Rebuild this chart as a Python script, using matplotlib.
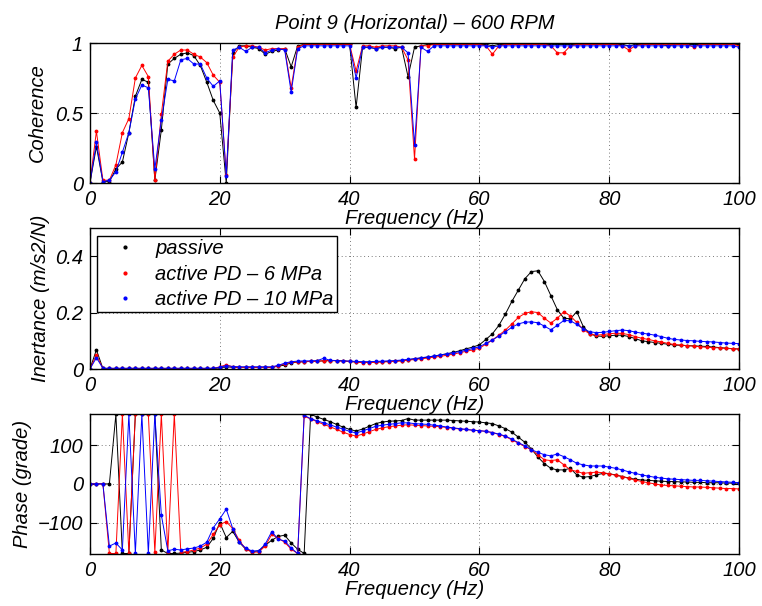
import matplotlib
matplotlib.use('Agg')
import matplotlib.pyplot as plt
from matplotlib.lines import Line2D
import numpy as np

# frequency axis (Hz), 1 Hz steps
freq = np.arange(0, 101, 1)

# --- coherence
coh_passive = [0.00, 0.26, 0.01, 0.01, 0.10, 0.15, 0.36, 0.62, 0.74, 0.72,
               0.02, 0.38, 0.85, 0.89, 0.92, 0.93, 0.91, 0.84, 0.72, 0.59,
               0.50, 0.00, 0.93, 0.98, 0.98, 0.97, 0.96, 0.92, 0.94, 0.95,
               0.96, 0.83, 0.98, 0.99, 0.99, 0.99, 1.00, 0.99, 0.99, 0.99,
               0.99, 0.54, 0.97, 0.97, 0.96, 0.97, 0.97, 0.96, 0.97, 0.76,
               0.97, 0.98, 0.99, 0.99, 0.99, 0.99, 0.99, 0.99, 0.99, 0.99,
               0.99, 0.99, 0.98, 0.99, 0.99, 0.99, 0.99, 0.99, 0.99, 0.99,
               0.99, 0.99, 0.99, 0.99, 0.99, 0.99, 0.99, 0.99, 0.99, 0.99,
               0.99, 0.99, 0.99, 0.98, 0.99, 0.99, 0.99, 0.99, 0.99, 0.98,
               0.99, 0.99, 0.99, 0.99, 0.99, 0.99, 0.99, 0.99, 0.99, 0.99,
               0.99]
coh_pd6 = [0.00, 0.37, 0.02, 0.02, 0.13, 0.36, 0.46, 0.75, 0.84, 0.76,
           0.02, 0.49, 0.87, 0.92, 0.95, 0.95, 0.92, 0.90, 0.86, 0.77,
           0.72, 0.06, 0.90, 0.97, 0.98, 0.98, 0.97, 0.95, 0.96, 0.96,
           0.96, 0.68, 0.97, 0.99, 0.99, 0.99, 0.99, 0.99, 0.99, 0.99,
           0.99, 0.80, 0.98, 0.98, 0.97, 0.98, 0.98, 0.98, 0.97, 0.88,
           0.17, 0.98, 0.98, 0.99, 0.99, 0.99, 0.99, 0.99, 0.99, 0.99,
           0.99, 0.98, 0.92, 0.98, 0.99, 0.99, 0.99, 0.99, 0.99, 0.99,
           0.99, 0.98, 0.93, 0.93, 0.98, 0.99, 0.99, 0.99, 0.99, 0.99,
           0.99, 0.99, 0.98, 0.95, 0.98, 0.99, 0.99, 0.99, 0.99, 0.99,
           0.99, 0.99, 0.99, 0.97, 0.99, 0.99, 0.99, 0.99, 0.99, 0.99,
           0.98]
coh_pd10 = [0.00, 0.29, 0.01, 0.02, 0.08, 0.22, 0.36, 0.60, 0.70, 0.68,
            0.10, 0.45, 0.74, 0.73, 0.88, 0.89, 0.85, 0.85, 0.75, 0.69,
            0.73, 0.05, 0.95, 0.97, 0.94, 0.97, 0.97, 0.93, 0.95, 0.96,
            0.95, 0.65, 0.96, 0.98, 0.98, 0.98, 0.98, 0.98, 0.98, 0.98,
            0.98, 0.75, 0.97, 0.97, 0.96, 0.97, 0.97, 0.97, 0.97, 0.93,
            0.27, 0.97, 0.94, 0.98, 0.98, 0.98, 0.98, 0.98, 0.98, 0.98,
            0.98, 0.98, 0.97, 0.98, 0.98, 0.98, 0.98, 0.98, 0.98, 0.98,
            0.98, 0.98, 0.98, 0.98, 0.98, 0.98, 0.98, 0.98, 0.98, 0.98,
            0.98, 0.98, 0.98, 0.98, 0.98, 0.98, 0.98, 0.98, 0.98, 0.98,
            0.98, 0.98, 0.98, 0.98, 0.98, 0.98, 0.98, 0.98, 0.98, 0.98,
            0.97]

# --- inertance (m/s2/N)
ine_passive = [0.000, 0.068, 0.002, 0.002, 0.002, 0.002, 0.002, 0.002, 0.002, 0.002,
               0.002, 0.002, 0.002, 0.002, 0.002, 0.002, 0.002, 0.002, 0.002, 0.002,
               0.004, 0.008, 0.006, 0.006, 0.006, 0.006, 0.006, 0.006, 0.006, 0.010,
               0.014, 0.022, 0.025, 0.026, 0.027, 0.028, 0.029, 0.030, 0.030, 0.029,
               0.027, 0.025, 0.024, 0.024, 0.025, 0.026, 0.027, 0.028, 0.030, 0.033,
               0.036, 0.039, 0.042, 0.046, 0.050, 0.054, 0.059, 0.065, 0.072, 0.078,
               0.086, 0.105, 0.125, 0.155, 0.195, 0.240, 0.280, 0.320, 0.345, 0.348,
               0.310, 0.260, 0.210, 0.180, 0.178, 0.203, 0.150, 0.125, 0.117, 0.116,
               0.118, 0.120, 0.120, 0.115, 0.108, 0.100, 0.097, 0.094, 0.091, 0.088,
               0.085, 0.084, 0.083, 0.082, 0.081, 0.080, 0.078, 0.076, 0.074, 0.072,
               0.071]
ine_pd6 = [0.000, 0.050, 0.002, 0.002, 0.002, 0.002, 0.002, 0.002, 0.002, 0.002,
           0.002, 0.002, 0.002, 0.002, 0.002, 0.002, 0.002, 0.002, 0.002, 0.002,
           0.008, 0.015, 0.008, 0.006, 0.006, 0.006, 0.006, 0.006, 0.006, 0.012,
           0.018, 0.024, 0.025, 0.026, 0.027, 0.027, 0.030, 0.030, 0.029, 0.028,
           0.027, 0.025, 0.023, 0.023, 0.024, 0.025, 0.026, 0.027, 0.029, 0.031,
           0.034, 0.036, 0.039, 0.042, 0.045, 0.049, 0.053, 0.058, 0.063, 0.068,
           0.074, 0.088, 0.103, 0.120, 0.138, 0.160, 0.183, 0.197, 0.203, 0.200,
           0.180, 0.163, 0.180, 0.203, 0.188, 0.165, 0.140, 0.124, 0.120, 0.122,
           0.125, 0.127, 0.126, 0.122, 0.115, 0.109, 0.105, 0.100, 0.096, 0.091,
           0.087, 0.085, 0.083, 0.081, 0.079, 0.077, 0.076, 0.075, 0.073, 0.072,
           0.071]
ine_pd10 = [0.000, 0.040, 0.003, 0.003, 0.003, 0.003, 0.003, 0.003, 0.003, 0.003,
            0.003, 0.003, 0.003, 0.003, 0.003, 0.003, 0.003, 0.003, 0.003, 0.003,
            0.006, 0.012, 0.009, 0.008, 0.008, 0.008, 0.008, 0.008, 0.008, 0.013,
            0.021, 0.026, 0.028, 0.029, 0.029, 0.030, 0.038, 0.031, 0.030, 0.029,
            0.028, 0.027, 0.026, 0.026, 0.027, 0.028, 0.029, 0.030, 0.032, 0.034,
            0.037, 0.040, 0.043, 0.046, 0.050, 0.054, 0.058, 0.062, 0.067, 0.073,
            0.079, 0.091, 0.103, 0.117, 0.132, 0.148, 0.160, 0.166, 0.167, 0.164,
            0.152, 0.139, 0.155, 0.172, 0.171, 0.158, 0.142, 0.132, 0.129, 0.130,
            0.133, 0.136, 0.138, 0.136, 0.131, 0.127, 0.124, 0.120, 0.115, 0.109,
            0.105, 0.103, 0.101, 0.100, 0.098, 0.097, 0.096, 0.094, 0.092, 0.091,
            0.090]

# --- phase (grade)
ph_passive = [0, 0, 0, 0, 179, -179, -179, 179, 179, 179,
              179, -170, -179, -179, -178, -176, -174, -170, -163, -140,
              -100, -138, -122, -150, -168, -174, -172, -158, -145, -135,
              -132, -152, -168, -179, 179, 172, 166, 160, 153, 146,
              140, 136, 141, 148, 155, 159, 161, 162, 163, 168,
              164, 164, 164, 164, 164, 164, 163, 162, 161, 160,
              159, 157, 155, 149, 142, 133, 120, 107, 90, 69,
              52, 40, 36, 36, 40, 23, 17, 19, 23, 27,
              26, 23, 19, 15, 12, 10, 9, 8, 7, 6,
              6, 5, 5, 4, 4, 3, 3, 3, 2, 2,
              2]
ph_pd6 = [0, 0, 0, -179, -179, 179, -179, 179, 179, 179,
          -176, 179, -175, 179, -176, -174, -170, -165, -155, -130,
          -105, -97, -115, -145, -168, -176, -175, -160, -130, -140,
          -150, -168, -179, 174, 167, 160, 153, 147, 140, 133,
          127, 123, 128, 134, 140, 144, 147, 149, 151, 152,
          151, 150, 149, 148, 147, 145, 143, 141, 140, 138,
          137, 135, 132, 127, 122, 113, 105, 96, 88, 75,
          62, 60, 62, 49, 36, 32, 27, 29, 30, 29,
          26, 22, 19, 14, 10, 6, 3, 0, -3, -4,
          -5, -6, -7, -8, -8, -9, -10, -11, -12, -12,
          -13]
ph_pd10 = [0, 0, 0, -160, -152, -170, 179, -179, 179, -179,
           179, -80, -172, -168, -170, -167, -165, -160, -150, -113,
           -90, -65, -115, -150, -165, -173, -172, -155, -123, -142,
           -147, -165, -179, 176, 168, 162, 157, 152, 146, 141,
           135, 131, 136, 142, 148, 151, 153, 155, 157, 157,
           155, 154, 153, 151, 149, 146, 144, 142, 140, 138,
           137, 135, 132, 128, 123, 115, 106, 98, 88, 81,
           75, 72, 77, 70, 62, 53, 49, 46, 46, 46,
           43, 40, 36, 31, 27, 23, 20, 17, 15, 13,
           12, 11, 10, 9, 9, 8, 7, 6, 5, 4,
           3]

labels = ['passive', 'active PD \u2013 6 MPa', 'active PD \u2013 10 MPa']
colors = ['k', 'r', 'b']

plt.rcParams['font.family'] = ['Liberation Sans', 'DejaVu Sans']
plt.rcParams['font.style'] = 'italic'
plt.rcParams['font.size'] = 14.5

fig = plt.figure(figsize=(7.62, 6.06), dpi=100)
ax1 = fig.add_axes([0.118, 0.698, 0.852, 0.231])
ax2 = fig.add_axes([0.118, 0.391, 0.852, 0.233])
ax3 = fig.add_axes([0.118, 0.086, 0.852, 0.231])

def draw(ax, series):
    for s, c in zip(series, colors):
        ax.plot(freq, s, '-', color=c, lw=0.7, marker='.', ms=3.5)
    ax.set_xlim(0, 100)
    ax.set_xticks([0, 20, 40, 60, 80, 100])
    ax.grid(True, color='0.3', linestyle=(0, (1, 3.5)), lw=0.6)
    ax.tick_params(direction='in', top=True, right=True, length=5, width=0.8,
                   labelsize=14.5, pad=5)
    for sp in ax.spines.values():
        sp.set_linewidth(1.0)
    ax.set_xlabel('Frequency (Hz)', fontsize=14.5, labelpad=0)

draw(ax1, [coh_passive, coh_pd6, coh_pd10])
ax1.set_ylim(0, 1)
ax1.set_yticks([0, 0.5, 1])
ax1.set_yticklabels(['0', '0.5', '1'])
ax1.set_ylabel('Coherence')
ax1.yaxis.set_label_coords(-0.066, 0.5)
ax1.set_title('Point 9 (Horizontal) \u2013 600 RPM', fontsize=14.5, pad=10)

draw(ax2, [ine_passive, ine_pd6, ine_pd10])
ax2.set_ylim(0, 0.5)
ax2.set_yticks([0, 0.2, 0.4])
ax2.set_yticklabels(['0', '0.2', '0.4'])
ax2.set_ylabel('Inertance (m/s2/N)')
ax2.yaxis.set_label_coords(-0.062, 0.5)

handles = [Line2D([], [], color=c, marker='.', ms=4, linestyle='none') for c in colors]
leg = ax2.legend(handles, labels, loc='upper left', bbox_to_anchor=(0.011, 0.943),
                 fancybox=False, framealpha=1, edgecolor='k', fontsize=14.5,
                 handlelength=2.5, handletextpad=0.25, borderpad=0.15,
                 labelspacing=0.33, borderaxespad=0)
leg.get_frame().set_linewidth(1.0)

draw(ax3, [ph_passive, ph_pd6, ph_pd10])
ax3.set_ylim(-180, 180)
ax3.set_yticks([-100, 0, 100])
ax3.set_ylabel('Phase (grade)')
ax3.yaxis.set_label_coords(-0.089, 0.5)

fig.savefig('out.png', dpi=100)
